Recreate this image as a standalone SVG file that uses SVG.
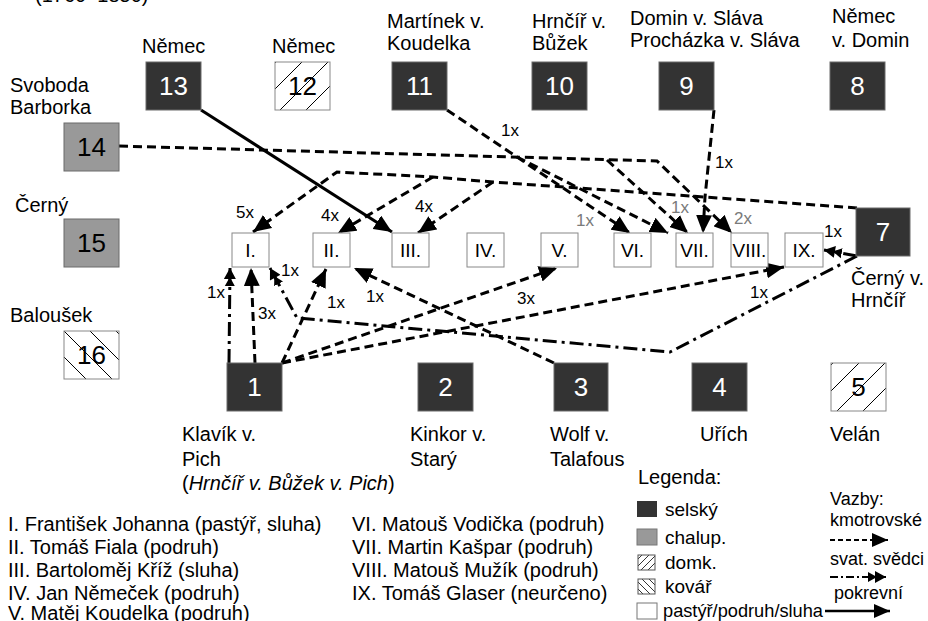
<svg xmlns="http://www.w3.org/2000/svg" width="928" height="621" viewBox="0 0 928 621">
<style>
text{font-family:"Liberation Sans",Arial,sans-serif;fill:#000}
.lbl{font-size:20px}
.num{font-size:26px;text-anchor:middle}
.numw{fill:#fff}
.sm{font-size:19px;text-anchor:middle}
.cnt{font-size:17px}
.gr{fill:#7a7a7a}
.dk{fill:#333;stroke:#6a6a6a;stroke-width:1}
.ch{fill:#999;stroke:#6a6a6a;stroke-width:1}
.wb{fill:#fff;stroke:#888;stroke-width:1}
.hf{fill:url(#hf);stroke:#888;stroke-width:1}
.hb{fill:url(#hb);stroke:#888;stroke-width:1}
.k{fill:none;stroke:#000;stroke-width:3;stroke-dasharray:9 5;marker-end:url(#ah)}
.s{fill:none;stroke:#000;stroke-width:3;stroke-dasharray:14 5 3 5;marker-end:url(#ad)}
.p{fill:none;stroke:#000;stroke-width:3;marker-end:url(#ah)}
.leg{font-size:19px}
.vz{font-size:18px}
.lst{font-size:20px}
</style>
<defs>
<marker id="ah" markerUnits="userSpaceOnUse" markerWidth="18" markerHeight="16" refX="18" refY="8" orient="auto" viewBox="0 0 18 16"><path d="M0,0 L18,8 L0,16 z" fill="#000"/></marker>
<marker id="ad" markerUnits="userSpaceOnUse" markerWidth="18" markerHeight="12" refX="18" refY="6" orient="auto" viewBox="0 0 18 12"><path d="M0,1 L9,6 L0,11 z M7,0 L18,6 L7,12 z" fill="#000"/></marker>
<marker id="ahs" markerUnits="userSpaceOnUse" markerWidth="16" markerHeight="14" refX="16" refY="7" orient="auto" viewBox="0 0 16 14"><path d="M0,0 L16,7 L0,14 z" fill="#000"/></marker>
<pattern id="hf" patternUnits="userSpaceOnUse" width="26" height="26"><path d="M-5,5 L5,-5 M0,26 L26,0 M21,31 L31,21" stroke="#000" stroke-width="1"/></pattern>
<pattern id="hb" patternUnits="userSpaceOnUse" width="26" height="26" patternTransform="translate(19,0)"><path d="M-5,21 L5,31 M0,0 L26,26 M21,-5 L31,5" stroke="#000" stroke-width="1"/></pattern>
<pattern id="hfs" patternUnits="userSpaceOnUse" width="7" height="7"><path d="M-2,2 L2,-2 M0,7 L7,0 M5,9 L9,5" stroke="#000" stroke-width="0.8"/></pattern>
<pattern id="hbs" patternUnits="userSpaceOnUse" width="7" height="7"><path d="M-2,5 L2,9 M0,0 L7,7 M5,-2 L9,2" stroke="#000" stroke-width="0.8"/></pattern>
</defs>

<text class="lbl" x="35" y="2">(1760–1850)</text>

<g id="connectors">
<path class="p" d="M201,110 L392,232"/>
<path class="k" d="M119,146 L657,161 L732,233"/>
<path class="k" d="M607,160 L688,233"/>
<path class="k" d="M857,208 L705,197 L493,182 L433,177 L337,172 L253,232"/>
<path class="k" d="M433,177 L338,233"/>
<path class="k" d="M493,182 L418,233"/>
<path class="k" d="M447,110 L630,233"/>
<path class="k" d="M517,157 L668,233"/>
<path class="k" d="M714,110 L705,197 L703,233"/>
<path class="s" d="M229,363 L230,268"/>
<path class="k" d="M255,363 L251,268"/>
<path class="k" d="M282,363 L326,269"/>
<path class="k" d="M554,363 L354,268"/>
<path class="k" d="M282,363 L557,268"/>
<path class="k" d="M282,363 L784,267"/>
<path class="s" d="M857,256 L670,352 L297,318 L270,268"/>
<path class="s" d="M857,256 L824,250"/>
<text class="cnt" x="236" y="218">5x</text>
<text class="cnt" x="321" y="221">4x</text>
<text class="cnt" x="415" y="212">4x</text>
<text class="cnt" x="501" y="136">1x</text>
<text class="cnt gr" x="576" y="226">1x</text>
<text class="cnt gr" x="671" y="213">1x</text>
<text class="cnt gr" x="734" y="224">2x</text>
<text class="cnt" x="715" y="168">1x</text>
<text class="cnt" x="207" y="298">1x</text>
<text class="cnt" x="258" y="319">3x</text>
<text class="cnt" x="281" y="276">1x</text>
<text class="cnt" x="327" y="308">1x</text>
<text class="cnt" x="366" y="302">1x</text>
<text class="cnt" x="517" y="304">3x</text>
<text class="cnt" x="750" y="298">1x</text>
<text class="cnt" x="824" y="237">1x</text>
</g>

<g id="n13"><text class="lbl" x="142" y="53">Němec</text><rect class="dk" x="146" y="62" width="55" height="48"/><text class="num numw" x="173.5" y="95">13</text></g>
<g id="n12"><text class="lbl" x="272" y="53">Němec</text><rect class="hf" x="275" y="62" width="55" height="48"/><text class="num" x="302.5" y="95">12</text></g>
<g id="n11"><text class="lbl" x="387" y="28">Martínek v.</text><text class="lbl" x="387" y="50">Koudelka</text><rect class="dk" x="392" y="62" width="55" height="48"/><text class="num numw" x="419.5" y="95">11</text></g>
<g id="n10"><text class="lbl" x="532" y="28">Hrnčíř v.</text><text class="lbl" x="532" y="50">Bůžek</text><rect class="dk" x="532" y="62" width="55" height="48"/><text class="num numw" x="559.5" y="95">10</text></g>
<g id="n9"><text class="lbl" x="630" y="25">Domin v. Sláva</text><text class="lbl" x="630" y="47">Procházka v. Sláva</text><rect class="dk" x="659" y="62" width="55" height="48"/><text class="num numw" x="686.5" y="95">9</text></g>
<g id="n8"><text class="lbl" x="832" y="23">Němec</text><text class="lbl" x="832" y="47">v. Domin</text><rect class="dk" x="830" y="62" width="55" height="48"/><text class="num numw" x="857.5" y="95">8</text></g>
<g id="n14"><text class="lbl" x="10" y="92">Svoboda</text><text class="lbl" x="10" y="114">Barborka</text><rect class="ch" x="64" y="123" width="55" height="48"/><text class="num" x="91.5" y="156">14</text></g>
<g id="n15"><text class="lbl" x="15" y="212">Černý</text><rect class="ch" x="64" y="219" width="55" height="48"/><text class="num" x="91.5" y="252">15</text></g>
<g id="n16"><text class="lbl" x="10" y="322">Baloušek</text><rect class="hb" x="64" y="331" width="55" height="48"/><text class="num" x="91.5" y="364">16</text></g>
<g id="n7"><rect class="dk" x="856" y="208" width="54" height="48"/><text class="num numw" x="883" y="241">7</text><text class="lbl" x="851" y="285">Černý v.</text><text class="lbl" x="851" y="307">Hrnčíř</text></g>

<g id="n1"><rect class="dk" x="227" y="363" width="55" height="48"/><text class="num numw" x="254.5" y="396">1</text><text class="lbl" x="182" y="441">Klavík v.</text><text class="lbl" x="182" y="466">Pich</text><text class="lbl" x="182" y="490">(<tspan font-style="italic">Hrnčíř v. Bůžek v. Pich</tspan>)</text></g>
<g id="n2"><rect class="dk" x="418" y="363" width="55" height="48"/><text class="num numw" x="445.5" y="396">2</text><text class="lbl" x="410" y="441">Kinkor v.</text><text class="lbl" x="410" y="466">Starý</text></g>
<g id="n3"><rect class="dk" x="554" y="363" width="54" height="48"/><text class="num numw" x="581" y="396">3</text><text class="lbl" x="550" y="441">Wolf v.</text><text class="lbl" x="550" y="466">Talafous</text></g>
<g id="n4"><rect class="dk" x="692" y="363" width="55" height="48"/><text class="num numw" x="719.5" y="396">4</text><text class="lbl" x="700" y="441">Uřích</text></g>
<g id="n5"><rect class="hf" x="831" y="363" width="55" height="48"/><text class="num" x="858.5" y="396">5</text><text class="lbl" x="830" y="441">Velán</text></g>

<g id="nI"><rect class="wb" x="232" y="233" width="37" height="34"/><text class="sm" x="250.5" y="257">I.</text></g>
<g id="nII"><rect class="wb" x="313" y="233" width="37" height="34"/><text class="sm" x="331.5" y="257">II.</text></g>
<g id="nIII"><rect class="wb" x="392" y="233" width="37" height="34"/><text class="sm" x="410.5" y="257">III.</text></g>
<g id="nIV"><rect class="wb" x="467" y="233" width="37" height="34"/><text class="sm" x="485.5" y="257">IV.</text></g>
<g id="nV"><rect class="wb" x="541" y="233" width="37" height="34"/><text class="sm" x="559.5" y="257">V.</text></g>
<g id="nVI"><rect class="wb" x="614" y="233" width="37" height="34"/><text class="sm" x="632.5" y="257">VI.</text></g>
<g id="nVII"><rect class="wb" x="676" y="233" width="37" height="34"/><text class="sm" x="694.5" y="257">VII.</text></g>
<g id="nVIII"><rect class="wb" x="731" y="233" width="37" height="34"/><text class="sm" x="749.5" y="257">VIII.</text></g>
<g id="nIX"><rect class="wb" x="785" y="233" width="38" height="34"/><text class="sm" x="804" y="257">IX.</text></g>

<g id="list" class="lst">
<text x="8" y="531">I. František Johanna (pastýř, sluha)</text>
<text x="8" y="554">II. Tomáš Fiala (podruh)</text>
<text x="8" y="577">III. Bartoloměj Kříž (sluha)</text>
<text x="8" y="600">IV. Jan Němeček (podruh)</text>
<text x="8" y="620">V. Matěj Koudelka (podruh)</text>
<text x="352" y="531">VI. Matouš Vodička (podruh)</text>
<text x="352" y="554">VII. Martin Kašpar (podruh)</text>
<text x="352" y="577">VIII. Matouš Mužík (podruh)</text>
<text x="352" y="600">IX. Tomáš Glaser (neurčeno)</text>
</g>

<g id="legend">
<text class="lbl" x="638" y="484">Legenda:</text>
<rect x="637" y="501" width="20" height="16" fill="#333"/><text class="leg" x="665" y="516">selský</text>
<rect x="637" y="529" width="20" height="16" fill="#999" stroke="#777"/><text class="leg" x="665" y="544">chalup.</text>
<rect x="638" y="555" width="17" height="15" fill="url(#hfs)" stroke="#555"/><text class="leg" x="665" y="569">domk.</text>
<rect x="638" y="579" width="17" height="15" fill="url(#hbs)" stroke="#555"/><text class="leg" x="665" y="593">kovář</text>
<rect x="637" y="603" width="20" height="16" fill="#fff" stroke="#777"/><text class="leg" x="663" y="617" textLength="160" lengthAdjust="spacingAndGlyphs">pastýř/podruh/sluha</text>
<text class="vz" x="830" y="505">Vazby:</text>
<text class="vz" x="830" y="526">kmotrovské</text>
<path d="M830,540 L888,540" fill="none" stroke="#000" stroke-width="2" stroke-dasharray="5 3" marker-end="url(#ahs)"/>
<text class="vz" x="830" y="565">svat. svědci</text>
<path d="M830,577 L886,577" fill="none" stroke="#000" stroke-width="2" stroke-dasharray="8 3 2 3" marker-end="url(#ad)"/>
<text class="vz" x="834" y="599">pokrevní</text>
<path d="M825,611 L890,611" fill="none" stroke="#000" stroke-width="2.5" marker-end="url(#ahs)"/>
</g>
</svg>
